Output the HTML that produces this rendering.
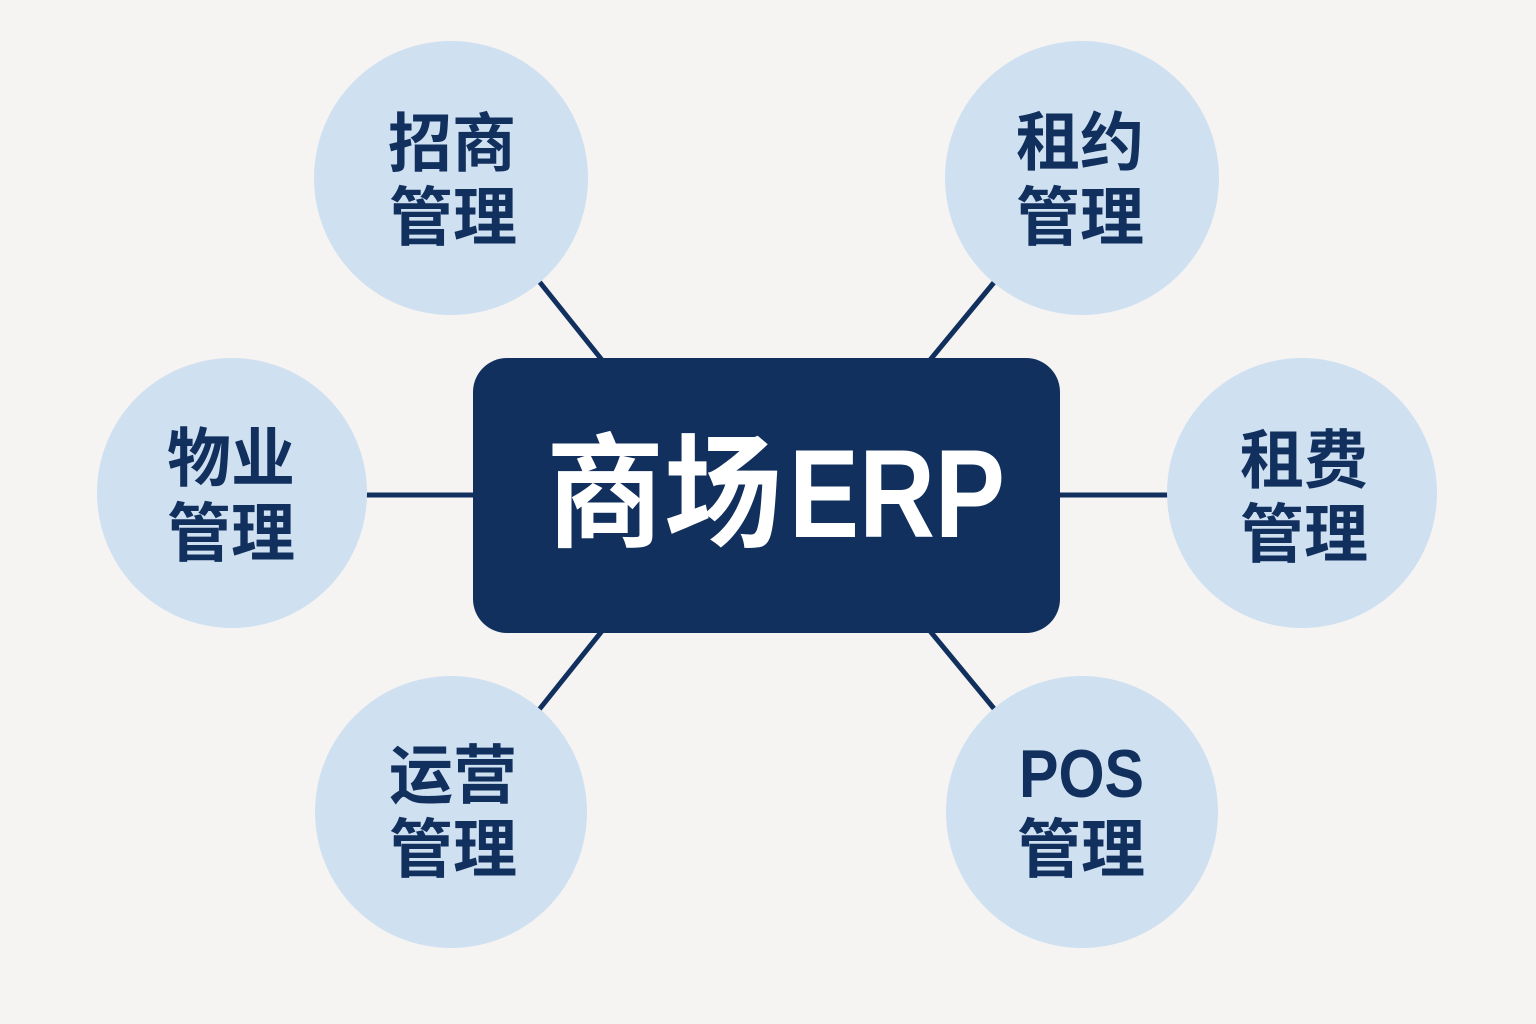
<!DOCTYPE html>
<html>
<head>
<meta charset="utf-8">
<style>
  html, body { margin: 0; padding: 0; background: #f5f4f2; }
  svg { display: block; }
  .cj { font-family: "Liberation Sans", "Noto Sans CJK SC", sans-serif; font-weight: 700; fill: #12305e; font-size: 64px; }
</style>
</head>
<body>
<svg width="1536" height="1024" viewBox="0 0 1536 1024" xmlns="http://www.w3.org/2000/svg">
  <rect x="0" y="0" width="1536" height="1024" fill="#f5f4f2"/>
  <!-- connectors -->
  <g stroke="#12305e" stroke-width="5" stroke-linecap="butt">
    <line x1="538" y1="280" x2="602" y2="360"/>
    <line x1="996" y1="280" x2="930" y2="360"/>
    <line x1="365" y1="495" x2="476" y2="495"/>
    <line x1="1058" y1="495" x2="1170" y2="495"/>
    <line x1="602" y1="631" x2="538" y2="711"/>
    <line x1="930" y1="631" x2="996" y2="711"/>
  </g>
  <!-- circles -->
  <g fill="#cfe0f1">
    <circle cx="451" cy="178" r="137"/>
    <circle cx="1082" cy="178" r="137"/>
    <circle cx="232" cy="493" r="135"/>
    <circle cx="1302" cy="493" r="135"/>
    <circle cx="451" cy="812" r="136"/>
    <circle cx="1082" cy="812" r="136"/>
  </g>
  <!-- center box -->
  <rect x="473" y="358" width="587" height="275" rx="34" ry="34" fill="#12305e"/>
  <text x="546" y="537" font-family="'Liberation Sans','Noto Sans CJK SC',sans-serif" font-weight="700" font-size="124" fill="#ffffff" textLength="236" lengthAdjust="spacingAndGlyphs">商场</text>
  <text x="789" y="537" font-family="'Liberation Sans',sans-serif" font-weight="700" font-size="125" fill="#ffffff" textLength="216" lengthAdjust="spacingAndGlyphs">ERP</text>

  <!-- labels -->
  <text class="cj" x="452" y="166" text-anchor="middle">招商</text>
  <text class="cj" x="453" y="240" text-anchor="middle">管理</text>

  <text class="cj" x="1080" y="165" text-anchor="middle">租约</text>
  <text class="cj" x="1080" y="240" text-anchor="middle">管理</text>

  <text class="cj" x="231" y="481" text-anchor="middle">物业</text>
  <text class="cj" x="231" y="556" text-anchor="middle">管理</text>

  <text class="cj" x="1304" y="483" text-anchor="middle">租费</text>
  <text class="cj" x="1304" y="557" text-anchor="middle">管理</text>

  <text class="cj" x="453" y="798" text-anchor="middle">运营</text>
  <text class="cj" x="453" y="872" text-anchor="middle">管理</text>

  <text x="1019" y="797" font-family="'Liberation Sans',sans-serif" font-weight="700" font-size="68" fill="#12305e" textLength="125" lengthAdjust="spacingAndGlyphs">POS</text>
  <text class="cj" x="1081" y="872" text-anchor="middle">管理</text>
</svg>
</body>
</html>
